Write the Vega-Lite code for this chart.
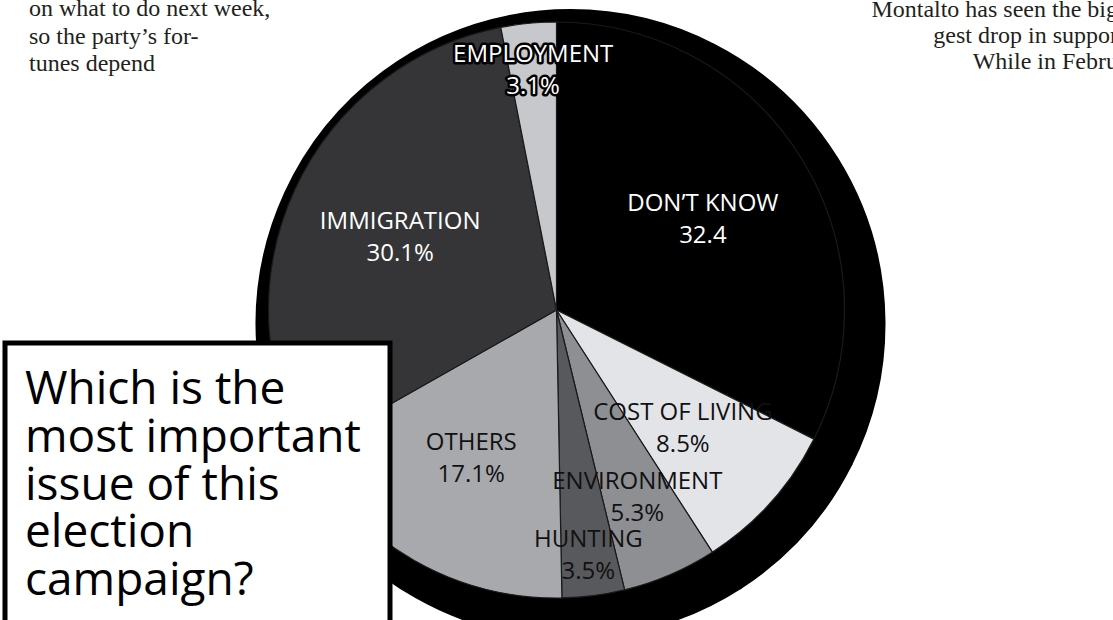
{
  "$schema": "https://vega.github.io/schema/vega-lite/v6.json",
  "width": 1113,
  "height": 620,
  "autosize": "none",
  "padding": 0,
  "background": "white",
  "config": {"view": {"stroke": null}},
  "datasets": {
    "issues": [
      {"issue": "DON’T KNOW", "label": "DON’T KNOW\n32.4", "share": 32.4, "rank": 1},
      {"issue": "COST OF LIVING", "label": "COST OF LIVING\n8.5%", "share": 8.5, "rank": 2},
      {"issue": "ENVIRONMENT", "label": "ENVIRONMENT\n5.3%", "share": 5.3, "rank": 3},
      {"issue": "HUNTING", "label": "HUNTING\n3.5%", "share": 3.5, "rank": 4},
      {"issue": "OTHERS", "label": "OTHERS\n17.1%", "share": 17.1, "rank": 5},
      {"issue": "IMMIGRATION", "label": "IMMIGRATION\n30.1%", "share": 30.1, "rank": 6},
      {"issue": "EMPLOYMENT", "label": "EMPLOYMENT\n3.1%", "share": 3.1, "rank": 7}
    ],
    "notes": [
      {"block": "left column", "text": "on what to do next week,\nso the party’s for-\ntunes depend"},
      {"block": "right column", "text": "Montalto has seen the big\ngest drop in suppor\nWhile in Febru"},
      {"block": "question", "text": "Which is the\nmost important\nissue of this\nelection\ncampaign?"}
    ]
  },
  "layer": [
    {
      "data": {"name": "notes"},
      "transform": [{"filter": "datum.block === 'left column'"}],
      "mark": {"type": "text", "align": "left", "baseline": "alphabetic", "dx": 29, "dy": 16, "font": "Liberation Serif", "fontSize": 24, "lineBreak": "\n", "lineHeight": 27.7, "color": "#231f20"},
      "encoding": {
        "x": {"datum": "left", "type": "nominal", "scale": {"type": "point", "domain": ["left", "right"], "padding": 0}, "axis": null},
        "y": {"datum": "top", "type": "nominal", "scale": {"type": "point", "domain": ["top", "bottom"], "padding": 0}, "axis": null},
        "text": {"field": "text", "type": "nominal"}
      }
    },
    {
      "data": {"name": "notes"},
      "transform": [{"filter": "datum.block === 'right column'"}],
      "mark": {"type": "text", "align": "right", "baseline": "alphabetic", "dx": 5, "dy": 17, "font": "Liberation Serif", "fontSize": 24, "lineBreak": "\n", "lineHeight": 26, "color": "#231f20"},
      "encoding": {
        "x": {"datum": "right", "type": "nominal", "scale": {"type": "point", "domain": ["left", "right"], "padding": 0}, "axis": null},
        "y": {"datum": "top", "type": "nominal", "scale": {"type": "point", "domain": ["top", "bottom"], "padding": 0}, "axis": null},
        "text": {"field": "text", "type": "nominal"}
      }
    },
    {
      "data": {"name": "issues"},
      "mark": {"type": "arc", "outerRadius": 314, "xOffset": 14, "yOffset": 14, "fill": "black", "stroke": "black", "strokeWidth": 2},
      "encoding": {
        "theta": {"field": "share", "type": "quantitative", "stack": true},
        "order": {"field": "rank", "type": "quantitative"}
      }
    },
    {
      "data": {"name": "issues"},
      "mark": {"type": "arc", "outerRadius": 288, "stroke": "#1a1a1a", "strokeWidth": 1.2},
      "encoding": {
        "theta": {"field": "share", "type": "quantitative", "stack": true},
        "order": {"field": "rank", "type": "quantitative"},
        "color": {
          "field": "issue",
          "type": "nominal",
          "scale": {
            "domain": ["DON’T KNOW", "COST OF LIVING", "ENVIRONMENT", "HUNTING", "OTHERS", "IMMIGRATION", "EMPLOYMENT"],
            "range": ["#000000", "#e3e4e8", "#8d8f93", "#58595c", "#a7a9ac", "#353537", "#c7c8cc"]
          },
          "legend": null
        }
      }
    },
    {
      "data": {"name": "issues"},
      "mark": {"type": "text", "radius": 172, "dy": -16, "font": "Open Sans", "fontSize": 24, "lineBreak": "\n", "lineHeight": 32, "baseline": "middle", "align": "center"},
      "encoding": {
        "theta": {"field": "share", "type": "quantitative", "stack": true},
        "order": {"field": "rank", "type": "quantitative"},
        "text": {"field": "label", "type": "nominal"},
        "color": {"condition": {"test": "datum.issue === 'OTHERS'", "value": "#111111"}, "value": "white"},
        "opacity": {"condition": {"test": "datum.issue === 'OTHERS' || datum.issue === 'IMMIGRATION' || datum.rank === 1", "value": 1}, "value": 0}
      }
    },
    {
      "data": {"name": "issues"},
      "mark": {"type": "text", "radius": 178, "dx": -6, "dy": -16, "font": "Open Sans", "fontSize": 24, "lineBreak": "\n", "lineHeight": 32, "baseline": "middle", "align": "center", "color": "#111111"},
      "encoding": {
        "theta": {"field": "share", "type": "quantitative", "stack": true},
        "order": {"field": "rank", "type": "quantitative"},
        "text": {"field": "label", "type": "nominal"},
        "opacity": {"condition": {"test": "datum.issue === 'COST OF LIVING'", "value": 1}, "value": 0}
      }
    },
    {
      "data": {"name": "issues"},
      "mark": {"type": "text", "radius": 205, "dy": -16, "font": "Open Sans", "fontSize": 24, "lineBreak": "\n", "lineHeight": 32, "baseline": "middle", "align": "center", "color": "#111111"},
      "encoding": {
        "theta": {"field": "share", "type": "quantitative", "stack": true},
        "order": {"field": "rank", "type": "quantitative"},
        "text": {"field": "label", "type": "nominal"},
        "opacity": {"condition": {"test": "datum.issue === 'ENVIRONMENT'", "value": 1}, "value": 0}
      }
    },
    {
      "data": {"name": "issues"},
      "mark": {"type": "text", "radius": 248, "dy": -16, "font": "Open Sans", "fontSize": 24, "lineBreak": "\n", "lineHeight": 32, "baseline": "middle", "align": "center", "color": "#111111"},
      "encoding": {
        "theta": {"field": "share", "type": "quantitative", "stack": true},
        "order": {"field": "rank", "type": "quantitative"},
        "text": {"field": "label", "type": "nominal"},
        "opacity": {"condition": {"test": "datum.issue === 'HUNTING'", "value": 1}, "value": 0}
      }
    },
    {
      "data": {"name": "issues"},
      "mark": {"type": "text", "radius": 240, "dy": -16, "font": "Open Sans", "fontSize": 24, "lineBreak": "\n", "lineHeight": 32, "baseline": "middle", "align": "center", "fill": "black", "stroke": "black", "strokeWidth": 5, "strokeJoin": "round"},
      "encoding": {
        "theta": {"field": "share", "type": "quantitative", "stack": true},
        "order": {"field": "rank", "type": "quantitative"},
        "text": {"field": "label", "type": "nominal"},
        "opacity": {"condition": {"test": "datum.issue === 'EMPLOYMENT'", "value": 1}, "value": 0}
      }
    },
    {
      "data": {"name": "issues"},
      "mark": {"type": "text", "radius": 240, "dy": -16, "font": "Open Sans", "fontSize": 24, "lineBreak": "\n", "lineHeight": 32, "baseline": "middle", "align": "center", "fill": "white"},
      "encoding": {
        "theta": {"field": "share", "type": "quantitative", "stack": true},
        "order": {"field": "rank", "type": "quantitative"},
        "text": {"field": "label", "type": "nominal"},
        "opacity": {"condition": {"test": "datum.issue === 'EMPLOYMENT'", "value": 1}, "value": 0}
      }
    },
    {
      "data": {"name": "notes"},
      "transform": [{"filter": "datum.block === 'question'"}],
      "mark": {"type": "rect", "fill": "white", "stroke": "black", "strokeWidth": 5, "xOffset": 5, "x2Offset": 390, "yOffset": -277, "y2Offset": 10},
      "encoding": {
        "x": {"datum": "left", "type": "nominal", "scale": {"type": "point", "domain": ["left", "right"], "padding": 0}, "axis": null},
        "x2": {"datum": "left"},
        "y": {"datum": "bottom", "type": "nominal", "scale": {"type": "point", "domain": ["top", "bottom"], "padding": 0}, "axis": null},
        "y2": {"datum": "bottom"}
      }
    },
    {
      "data": {"name": "notes"},
      "transform": [{"filter": "datum.block === 'question'"}],
      "mark": {"type": "text", "align": "left", "baseline": "alphabetic", "dx": 25, "dy": -216, "font": "Open Sans", "fontSize": 46, "lineBreak": "\n", "lineHeight": 47.75, "color": "black"},
      "encoding": {
        "x": {"datum": "left", "type": "nominal", "scale": {"type": "point", "domain": ["left", "right"], "padding": 0}, "axis": null},
        "y": {"datum": "bottom", "type": "nominal", "scale": {"type": "point", "domain": ["top", "bottom"], "padding": 0}, "axis": null},
        "text": {"field": "text", "type": "nominal"}
      }
    }
  ]
}
